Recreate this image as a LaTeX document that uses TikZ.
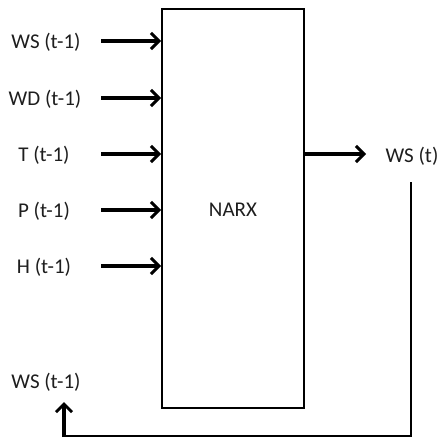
\documentclass[tikz,border=0pt]{standalone}
\usepackage{fontspec}
\setmainfont{Carlito}
\usetikzlibrary{arrows.meta}
\definecolor{txt}{HTML}{1E1E1E}
\begin{document}
\begin{tikzpicture}[x=1pt,y=-1pt,
  lbl/.style={font=\fontsize{21}{24}\selectfont, text=txt, inner sep=0pt},
  inarrow/.style={line width=3.4pt, -{Straight Barb[length=8pt,width=16pt,line width=3pt]}},
  fbline/.style={line width=2pt},
  boxstyle/.style={draw, line width=2pt, minimum width=142pt, minimum height=398pt, inner sep=0pt}]
\useasboundingbox (0,0) rectangle (438,441);
\node[boxstyle] (box) at (233,208.5) {};
\node[lbl] (narx) at (233,210) {NARX};
% input labels
\node[lbl] (l1) at (46,42) {WS (t-1)};
\node[lbl] (l2) at (45,99) {WD (t-1)};
\node[lbl] (l3) at (44,155) {T (t-1)};
\node[lbl] (l4) at (44,211) {P (t-1)};
\node[lbl] (l5) at (44,267) {H (t-1)};
% input arrow starts
\coordinate (s1) at (101,41);
\coordinate (s2) at (101,98);
\coordinate (s3) at (101,154);
\coordinate (s4) at (101,210);
\coordinate (s5) at (101,266);
\draw[inarrow] (s1) -- (box.west |- s1);
\draw[inarrow] (s2) -- (box.west |- s2);
\draw[inarrow] (s3) -- (box.west |- s3);
\draw[inarrow] (s4) -- (box.west |- s4);
\draw[inarrow] (s5) -- (box.west |- s5);
% output
\node[lbl] (out) at (412,156) {WS (t)};
\coordinate (oe) at (366,154);
\draw[inarrow] (box.east |- oe) -- (oe);
% feedback
\node[lbl] (fb) at (46,382) {WS (t-1)};
\coordinate (f0) at (411,182);
\coordinate (f1) at (411,436);
\coordinate (f2) at (64,436);
\coordinate (f3) at (64,402);
\draw[fbline] (f0) -- (f1) -- (f2);
\draw[inarrow] (f2) ++(0,1) -- (f3);
\end{tikzpicture}
\end{document}
